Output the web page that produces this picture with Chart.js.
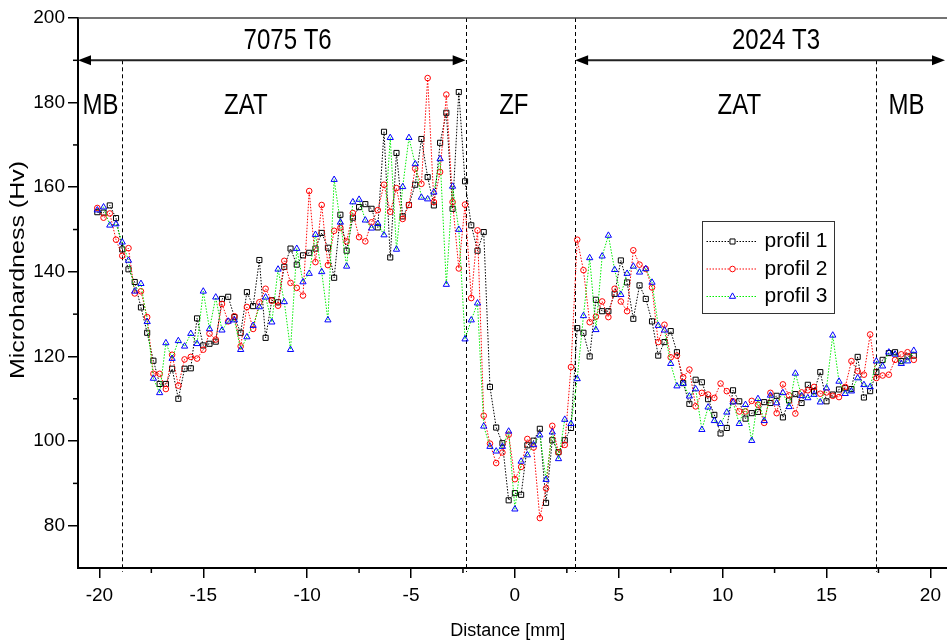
<!DOCTYPE html>
<html>
<head>
<meta charset="utf-8">
<script src="https://cdn.jsdelivr.net/npm/chart.js@4.4.0/dist/chart.umd.min.js"></script>
<style>
  html, body { margin: 0; padding: 0; background: #fff; overflow: hidden; }
  #wrap { width: 947px; height: 643px; }
</style>
</head>
<body>
<div id="wrap"><canvas id="hardnessChart"></canvas></div>
<script>
// distance from the weld centre (mm)
const distance = [
  -20.1, -19.8, -19.5, -19.2, -18.9, -18.6, -18.3, -18.0, -17.7, -17.4,
  -17.1, -16.8, -16.5, -16.2, -15.9, -15.6, -15.3, -15.0, -14.7, -14.4,
  -14.1, -13.8, -13.5, -13.2, -12.9, -12.6, -12.3, -12.0, -11.7, -11.4,
  -11.1, -10.8, -10.5, -10.2, -9.9, -9.6, -9.3, -9.0, -8.7, -8.4,
  -8.1, -7.8, -7.5, -7.2, -6.9, -6.6, -6.3, -6.0, -5.7, -5.4,
  -5.1, -4.8, -4.5, -4.2, -3.9, -3.6, -3.3, -3.0, -2.7, -2.4,
  -2.1, -1.8, -1.5, -1.2, -0.9, -0.6, -0.3, 0.0, 0.3, 0.6,
  0.9, 1.2, 1.5, 1.8, 2.1, 2.4, 2.7, 3.0, 3.3, 3.6,
  3.9, 4.2, 4.5, 4.8, 5.1, 5.4, 5.7, 6.0, 6.3, 6.6,
  6.9, 7.2, 7.5, 7.8, 8.1, 8.4, 8.7, 9.0, 9.3, 9.6,
  9.9, 10.2, 10.5, 10.8, 11.1, 11.4, 11.7, 12.0, 12.3, 12.6,
  12.9, 13.2, 13.5, 13.8, 14.1, 14.4, 14.7, 15.0, 15.3, 15.6,
  15.9, 16.2, 16.5, 16.8, 17.1, 17.4, 17.7, 18.0, 18.3, 18.6,
  18.9, 19.2
];

const profil1 = [
  154.1, 154.0, 155.7, 152.7, 145.3, 140.6, 137.6, 131.6, 125.6, 119.0,
  113.5, 113.5, 117.1, 110.0, 117.1, 117.2, 129.0, 122.6, 123.0, 123.5,
  133.6, 134.1, 129.3, 125.6, 135.2, 131.9, 142.8, 124.4, 133.3, 132.8,
  141.2, 145.5, 141.7, 143.9, 144.5, 145.5, 149.2, 145.7, 138.6, 153.5,
  145.0, 152.8, 155.3, 156.0, 154.9, 150.5, 173.1, 143.4, 168.1, 153.1,
  155.8, 160.6, 171.4, 162.4, 155.7, 170.5, 177.6, 154.9, 182.5, 161.4,
  151.0, 145.0, 149.4, 112.8, 103.2, 99.5, 86.0, 87.7, 87.3, 99.0,
  100.1, 102.9, 85.4, 100.2, 97.4, 100.2, 103.1, 126.7, 125.6, 120.0,
  133.4, 130.7, 130.7, 134.8, 142.7, 137.5, 128.9, 136.8, 133.6, 128.3,
  120.2, 123.4, 126.0, 121.0, 113.7, 108.8, 114.5, 113.9, 109.9, 106.2,
  101.8, 103.1, 112.0, 109.4, 105.3, 106.6, 106.9, 109.2, 109.0, 110.7,
  105.6, 109.6, 111.1, 109.0, 113.3, 111.8, 116.3, 109.4, 111.0, 112.2,
  112.5, 112.3, 119.9, 110.3, 111.8, 116.3, 119.2, 120.8, 121.0, 118.9,
  120.0, 120.2
];

const profil2 = [
  155.1, 152.8, 153.8, 147.6, 143.8, 145.6, 134.9, 135.4, 129.3, 115.9,
  115.9, 112.3, 120.4, 113.1, 119.3, 119.9, 119.5, 121.6, 125.4, 124.0,
  132.4, 128.3, 129.5, 122.4, 131.7, 126.5, 132.8, 136.0, 133.2, 132.0,
  142.6, 137.4, 136.2, 134.4, 159.1, 142.3, 155.8, 141.6, 149.7, 150.4,
  147.2, 153.9, 148.2, 147.2, 151.7, 154.6, 160.6, 154.2, 159.8, 152.5,
  155.8, 164.4, 160.8, 185.8, 156.5, 163.6, 181.9, 156.5, 140.8, 155.9,
  133.8, 149.8, 106.0, 99.4, 94.8, 97.3, 101.5, 91.0, 93.9, 100.5,
  98.5, 81.8, 88.8, 103.6, 97.3, 99.1, 117.5, 147.6, 140.4, 128.1,
  129.4, 133.0, 129.3, 136.0, 133.0, 130.7, 145.1, 141.7, 140.7, 136.3,
  123.4, 127.5, 119.8, 120.2, 115.1, 116.9, 108.2, 111.4, 111.0, 110.2,
  113.6, 111.8, 109.4, 107.0, 107.0, 109.5, 108.6, 104.3, 111.4, 106.6,
  113.4, 110.8, 106.5, 111.5, 112.0, 112.8, 111.2, 111.5, 110.7, 110.4,
  112.8, 118.9, 116.5, 115.7, 125.2, 114.9, 115.5, 115.7, 119.2, 120.5,
  121.0, 119.2
];

const profil3 = [
  154.6, 155.3, 151.0, 151.3, 147.0, 142.7, 135.4, 137.2, 128.2, 114.8,
  111.4, 123.2, 119.5, 123.7, 122.4, 125.4, 123.0, 135.4, 126.5, 134.0,
  126.2, 128.3, 128.6, 121.6, 124.6, 127.3, 131.7, 134.0, 128.1, 140.6,
  132.9, 121.6, 145.5, 137.6, 139.6, 148.8, 140.0, 128.6, 161.8, 151.7,
  141.3, 156.5, 157.1, 152.2, 150.3, 151.4, 148.7, 171.7, 145.3, 160.1,
  171.7, 165.5, 157.6, 157.2, 158.8, 166.7, 137.0, 160.2, 150.0, 124.1,
  128.6, 132.6, 103.5, 98.7, 97.6, 98.7, 102.3, 83.9, 95.2, 96.7,
  99.1, 101.4, 90.9, 102.1, 95.8, 105.1, 104.1, 114.7, 129.6, 143.3,
  126.3, 143.7, 148.6, 140.5, 134.6, 139.6, 141.3, 139.9, 140.7, 137.5,
  127.3, 126.2, 118.3, 113.0, 113.6, 110.6, 112.3, 102.7, 108.0, 104.8,
  104.1, 106.8, 109.2, 104.1, 108.6, 100.1, 110.0, 104.8, 110.8, 109.0,
  111.4, 108.1, 116.0, 110.7, 110.2, 111.0, 109.2, 112.5, 125.0, 114.1,
  111.2, 111.8, 114.9, 113.3, 112.8, 118.9, 117.7, 121.0, 120.5, 118.3,
  118.9, 121.4
];

const xTicks = [-20, -15, -10, -5, 0, 5, 10, 15, 20];
const xMinorTicks = [-17.5, -12.5, -7.5, -2.5, 2.5, 7.5, 12.5, 17.5];
const yTicks = [80, 100, 120, 140, 160, 180, 200];
const yMinorTicks = [90, 110, 130, 150, 170, 190];

// zone boundaries (mm) and labels
const zoneBounds = [-18.9, -2.37, 2.9, 17.36];
const zoneNames = ['MB', 'ZAT', 'ZF', 'ZAT', 'MB'];
const zoneCentres = [-19.95, -12.95, -0.05, 10.8, 18.85];
const alloyNames = ['7075 T6', '2024 T3'];
const alloyCentres = [-10.94, 12.57];

function points(values) {
  return distance.map((d, i) => ({ x: d, y: values[i] }));
}

const FONT = "'Liberation Sans', Arial, sans-serif";

function arrowHead(ctx, x, y, dir) {
  ctx.beginPath();
  ctx.moveTo(x, y);
  ctx.lineTo(x - dir * 13, y - 5);
  ctx.lineTo(x - dir * 13, y + 5);
  ctx.closePath();
  ctx.fill();
}

function condensedText(ctx, text, x, y, size) {
  ctx.save();
  ctx.translate(x, y);
  ctx.scale(0.8, 1);
  ctx.font = size + 'px ' + FONT;
  ctx.textAlign = 'center';
  ctx.textBaseline = 'middle';
  ctx.fillText(text, 0, 0);
  ctx.restore();
}

const decorPlugin = {
  id: 'decor',
  beforeDatasetsDraw(chart) {
    const { ctx, chartArea, scales: { x, y } } = chart;
    const yArrow = y.getPixelForValue(190);
    ctx.save();
    ctx.strokeStyle = '#000';
    ctx.lineWidth = 1;
    ctx.setLineDash([4, 3]);
    zoneBounds.forEach((b, i) => {
      const px = Math.round(x.getPixelForValue(b)) + 0.5;
      const top = (i === 1 || i === 2) ? chartArea.top : yArrow;
      ctx.beginPath();
      ctx.moveTo(px, top);
      ctx.lineTo(px, chartArea.bottom + 4);
      ctx.stroke();
    });
    ctx.setLineDash([]);

    // alloy arrows
    ctx.strokeStyle = '#222';
    ctx.fillStyle = '#000';
    ctx.lineWidth = 2;
    const spans = [[chartArea.left, x.getPixelForValue(zoneBounds[1])],
                   [x.getPixelForValue(zoneBounds[2]), chart.width - 2]];
    spans.forEach(([a, b]) => {
      ctx.beginPath();
      ctx.moveTo(a + 6, yArrow);
      ctx.lineTo(b - 6, yArrow);
      ctx.stroke();
      arrowHead(ctx, a, yArrow, -1);
      arrowHead(ctx, b, yArrow, 1);
    });

    ctx.fillStyle = '#000';
    alloyNames.forEach((t, i) => {
      condensedText(ctx, t, x.getPixelForValue(alloyCentres[i]), y.getPixelForValue(194.7), 30);
    });
    zoneNames.forEach((t, i) => {
      condensedText(ctx, t, x.getPixelForValue(zoneCentres[i]), y.getPixelForValue(179.2), 30);
    });
    ctx.restore();
  },
  afterDraw(chart) {
    const { ctx, chartArea, scales: { x, y } } = chart;
    ctx.save();
    // top frame line and continuation of the x axis to the clipped edge
    ctx.strokeStyle = '#444';
    ctx.lineWidth = 1.5;
    ctx.beginPath();
    ctx.moveTo(chartArea.left, chartArea.top);
    ctx.lineTo(chart.width, chartArea.top);
    ctx.stroke();
    ctx.strokeStyle = '#000';
    ctx.lineWidth = 2;
    ctx.beginPath();
    ctx.moveTo(chartArea.right - 1, chartArea.bottom);
    ctx.lineTo(chart.width, chartArea.bottom);
    ctx.stroke();

    // minor ticks
    ctx.strokeStyle = '#000';
    ctx.lineWidth = 1.5;
    xMinorTicks.forEach(v => {
      const px = x.getPixelForValue(v);
      ctx.beginPath();
      ctx.moveTo(px, chartArea.bottom);
      ctx.lineTo(px, chartArea.bottom + 5);
      ctx.stroke();
    });
    yMinorTicks.forEach(v => {
      const py = y.getPixelForValue(v);
      ctx.beginPath();
      ctx.moveTo(chartArea.left, py);
      ctx.lineTo(chartArea.left - 5, py);
      ctx.stroke();
    });

    // y axis title, squeezed like the original
    ctx.translate(19, 270);
    ctx.rotate(-Math.PI / 2);
    ctx.scale(1, 0.78);
    ctx.font = '25px ' + FONT;
    ctx.fillStyle = '#000';
    ctx.textAlign = 'center';
    ctx.textBaseline = 'middle';
    ctx.fillText('Microhardness (Hv)', 0, 0);
    ctx.restore();
  },
  afterDatasetsDraw(chart) {
    const { ctx } = chart;
    const box = { left: 702.5, top: 221.5, width: 132, height: 92 };
    ctx.save();
    ctx.fillStyle = '#fff';
    ctx.fillRect(box.left, box.top, box.width, box.height);
    ctx.strokeStyle = '#333';
    ctx.lineWidth = 1;
    ctx.strokeRect(box.left, box.top, box.width, box.height);
    chart.data.datasets.forEach((ds, i) => {
      const yy = box.top + 20 + i * 27.5;
      ctx.strokeStyle = ds.borderColor;
      ctx.lineWidth = 1;
      ctx.setLineDash(ds.borderDash);
      ctx.beginPath();
      ctx.moveTo(box.left + 4, yy);
      ctx.lineTo(box.left + 55, yy);
      ctx.stroke();
      ctx.setLineDash([]);
      ctx.strokeStyle = ds.pointBorderColor;
      ctx.fillStyle = '#fff';
      Chart.helpers.drawPoint(ctx, {
        pointStyle: ds.pointStyle,
        radius: ds.pointRadius,
        borderWidth: 1
      }, box.left + 30, yy);
      ctx.fillStyle = '#000';
      ctx.font = '21px ' + FONT;
      ctx.textAlign = 'left';
      ctx.textBaseline = 'middle';
      ctx.fillText(ds.label, box.left + 62, yy);
    });
    ctx.restore();
  }
};

const ctx = document.getElementById('hardnessChart');
new Chart(ctx, {
  type: 'line',
  data: {
    datasets: [{
      label: 'profil 1',
      data: points(profil1),
      borderColor: '#000',
      pointBorderColor: '#000',
      pointBackgroundColor: 'rgba(255,255,255,0)',
      pointStyle: 'rect',
      pointRadius: 3.6,
      borderWidth: 1,
      borderDash: [1.5, 1.5],
      order: 3
    }, {
      label: 'profil 2',
      data: points(profil2),
      borderColor: '#ff0000',
      pointBorderColor: '#ff0000',
      pointBackgroundColor: 'rgba(255,255,255,0)',
      pointStyle: 'circle',
      pointRadius: 2.8,
      borderWidth: 1,
      borderDash: [1.5, 1.5],
      order: 2
    }, {
      label: 'profil 3',
      data: points(profil3),
      borderColor: '#00ee00',
      pointBorderColor: '#0000ff',
      pointBackgroundColor: 'rgba(255,255,255,0)',
      pointStyle: 'triangle',
      pointRadius: 3.6,
      borderWidth: 1,
      borderDash: [1.5, 1.5],
      order: 1
    }]
  },
  options: {
    responsive: true,
    maintainAspectRatio: false,
    animation: false,
    layout: { padding: { top: 18, right: 0, left: 0, bottom: 0 } },
    plugins: {
      legend: { display: false },
      tooltip: { enabled: false }
    },
    elements: { line: { tension: 0 }, point: { borderWidth: 1 } },
    scales: {
      x: {
        type: 'linear',
        min: -21.03,
        max: 20.34,
        afterBuildTicks: s => { s.ticks = xTicks.map(v => ({ value: v })); },
        afterFit: s => { s.height = 75; },
        grid: { display: true, drawOnChartArea: false, tickLength: 10, color: '#000', lineWidth: 1.5 },
        border: { display: true, color: '#000', width: 2 },
        ticks: { color: '#000', padding: 6, maxRotation: 0, font: { family: FONT, size: 19 } },
        title: {
          display: true,
          text: 'Distance [mm]',
          color: '#000',
          font: { family: FONT, size: 18 },
          padding: { top: 4, bottom: 1 }
        }
      },
      y: {
        min: 70,
        max: 200,
        afterBuildTicks: s => { s.ticks = yTicks.map(v => ({ value: v })); },
        afterFit: s => { s.width = 78; },
        grid: { display: true, drawOnChartArea: false, tickLength: 10, color: '#000', lineWidth: 1.5 },
        border: { display: true, color: '#000', width: 2 },
        ticks: { color: '#000', padding: 3, font: { family: FONT, size: 19 } }
      }
    }
  },
  plugins: [decorPlugin]
});
</script>
</body>
</html>
